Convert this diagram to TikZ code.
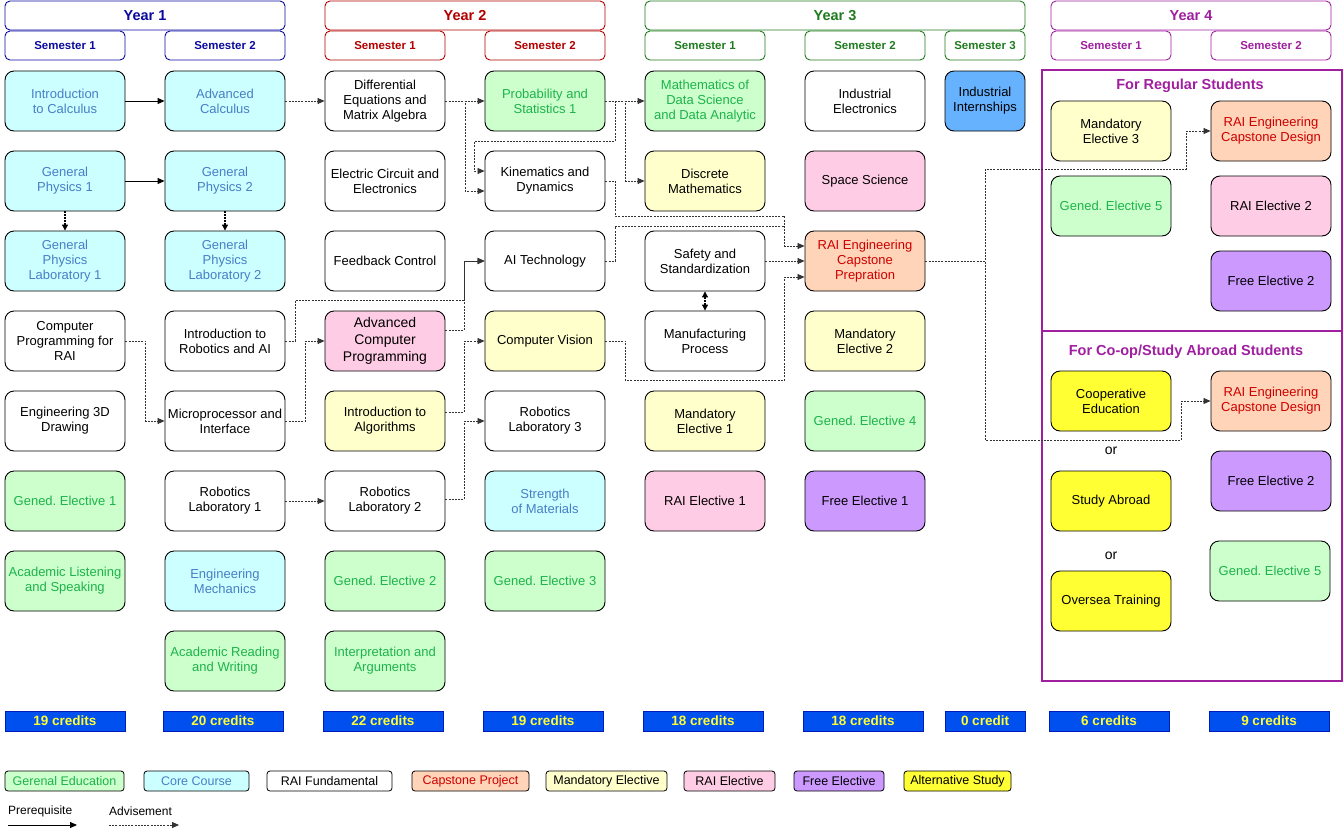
\documentclass[tikz,border=0pt]{standalone}
\usepackage{fontspec}
\setmainfont{Liberation Sans}
\usetikzlibrary{arrows.meta}
\definecolor{genfill}{HTML}{CCFFCC}
\definecolor{gentext}{HTML}{1DB34A}
\definecolor{corefill}{HTML}{CCFFFF}
\definecolor{coretext}{HTML}{4A7EC6}
\definecolor{capfill}{HTML}{FFD4B8}
\definecolor{captext}{HTML}{CC0000}
\definecolor{mandfill}{HTML}{FFFFCC}
\definecolor{raifill}{HTML}{FFCCE6}
\definecolor{freefill}{HTML}{CC99FF}
\definecolor{altfill}{HTML}{FFFF33}
\definecolor{internfill}{HTML}{66B2FF}
\definecolor{creditfill}{HTML}{0050EF}
\definecolor{creditdraw}{HTML}{001DBC}
\definecolor{credittext}{HTML}{FFFF33}
\definecolor{yonec}{HTML}{0A0A9E}
\definecolor{ytwoc}{HTML}{B20000}
\definecolor{ythreec}{HTML}{1E7B1E}
\definecolor{yfourc}{HTML}{A01EA0}
\definecolor{linec}{HTML}{333333}
\begin{document}
\frenchspacing
\begin{tikzpicture}[x=1pt,y=-1pt,
  course/.style={draw=black, line width=0.9pt, rounded corners=9pt, minimum width=120pt, minimum height=60pt, inner sep=0pt, align=center, font=\fontsize{13}{15}\selectfont},
  cgen/.style={course, fill=genfill, text=gentext},
  ccore/.style={course, fill=corefill, text=coretext},
  cfund/.style={course, fill=white, text=black},
  ccap/.style={course, fill=capfill, text=captext},
  cmand/.style={course, fill=mandfill, text=black},
  crai/.style={course, fill=raifill, text=black},
  cfree/.style={course, fill=freefill, text=black},
  calt/.style={course, fill=altfill, text=black},
  cint/.style={course, fill=internfill, text=black, minimum width=80pt},
  yearhdr/.style={draw, line width=0.9pt, rounded corners=5pt, minimum height=29pt, inner sep=0pt, font=\fontsize{14.5}{16}\selectfont\bfseries},
  semhdr/.style={draw, line width=0.9pt, rounded corners=5pt, minimum height=29pt, minimum width=120pt, inner sep=0pt, font=\fontsize{11.5}{13}\selectfont\bfseries},
  credit/.style={draw=creditdraw, fill=creditfill, text=credittext, minimum width=120pt, minimum height=20pt, inner sep=0pt, font=\fontsize{13.5}{14}\selectfont\bfseries},
  legbox/.style={draw=black, line width=0.8pt, rounded corners=3pt, minimum height=20pt, inner sep=0pt, font=\fontsize{12.5}{14}\selectfont},
  grouptitle/.style={text=yfourc, font=\fontsize{14.5}{16}\selectfont\bfseries},
  ortext/.style={font=\fontsize{14}{16}\selectfont},
  pre/.style={draw=black, line width=1pt, -{Triangle[length=7pt,width=6pt]}},
  advline/.style={draw=linec, line width=0.8pt, dash pattern=on 2pt off 1.2pt},
  adv/.style={advline, -{Triangle[length=7pt,width=6pt]}},
  advboth/.style={draw=black, line width=1.1pt, dash pattern=on 1.5pt off 1.5pt, {Triangle[length=6pt,width=6pt]}-{Triangle[length=6pt,width=6pt]}}
]
\useasboundingbox (0,0) rectangle (1344,833);

% ---------- headers ----------
\node[yearhdr, draw=yonec, text=yonec, minimum width=280pt] (Y1) at (145,15.5) {Year 1};
\node[semhdr, draw=yonec, text=yonec] (Y1S1) at (65,45.5) {Semester 1};
\node[semhdr, draw=yonec, text=yonec] (Y1S2) at (225,45.5) {Semester 2};
\node[yearhdr, draw=ytwoc, text=ytwoc, minimum width=280pt] (Y2) at (465,15.5) {Year 2};
\node[semhdr, draw=ytwoc, text=ytwoc] (Y2S1) at (385,45.5) {Semester 1};
\node[semhdr, draw=ytwoc, text=ytwoc] (Y2S2) at (545,45.5) {Semester 2};
\node[yearhdr, draw=ythreec, text=ythreec, minimum width=380pt] (Y3) at (835,15.5) {Year 3};
\node[semhdr, draw=ythreec, text=ythreec] (Y3S1) at (705,45.5) {Semester 1};
\node[semhdr, draw=ythreec, text=ythreec] (Y3S2) at (865,45.5) {Semester 2};
\node[semhdr, draw=ythreec, text=ythreec, minimum width=80pt] (Y3S3) at (985,45.5) {Semester 3};
\node[yearhdr, draw=yfourc, text=yfourc, minimum width=280pt] (Y4) at (1191,15.5) {Year 4};
\node[semhdr, draw=yfourc, text=yfourc] (Y4S1) at (1111,45.5) {Semester 1};
\node[semhdr, draw=yfourc, text=yfourc] (Y4S2) at (1271,45.5) {Semester 2};

% ---------- Year 4 group boxes ----------
\node[draw=yfourc, line width=2pt, minimum width=300pt, minimum height=261pt, inner sep=0pt] (RegBox) at (1192,200.5) {};
\node[draw=yfourc, line width=2pt, minimum width=300pt, minimum height=350pt, inner sep=0pt] (CoopBox) at (1192,506) {};
\node[grouptitle] (RegTitle) at (1190,86) {For Regular Students};
\node[grouptitle] (CoopTitle) at (1186,352) {For Co-op/Study Abroad Students};

% ---------- Year 1 ----------
\node[ccore] (IntroCalc) at (65,101) {Introduction\\to Calculus};
\node[ccore] (GP1) at (65,181) {General\\Physics 1};
\node[ccore] (GPLab1) at (65,261) {General\\Physics\\Laboratory 1};
\node[cfund] (CompProg) at (65,341) {Computer\\Programming for\\RAI};
\node[cfund] (Eng3D) at (65,421) {Engineering 3D\\Drawing};
\node[cgen] (GenEd1) at (65,501) {Gened. Elective 1};
\node[cgen] (AcadListen) at (65,581) {Academic Listening\\and Speaking};

\node[ccore] (AdvCalc) at (225,101) {Advanced\\Calculus};
\node[ccore] (GP2) at (225,181) {General\\Physics 2};
\node[ccore] (GPLab2) at (225,261) {General\\Physics\\Laboratory 2};
\node[cfund] (IntroRob) at (225,341) {Introduction to\\Robotics and AI};
\node[cfund] (Micro) at (225,421) {Microprocessor and\\Interface};
\node[cfund] (RobLab1) at (225,501) {Robotics\\Laboratory 1};
\node[ccore] (EngMech) at (225,581) {Engineering\\Mechanics};
\node[cgen] (AcadRead) at (225,661) {Academic Reading\\and Writing};

% ---------- Year 2 ----------
\node[cfund] (DiffEq) at (385,101) {Differential\\Equations and\\Matrix Algebra};
\node[cfund] (ElecCirc) at (385,181) {Electric Circuit and\\Electronics};
\node[cfund] (Feedback) at (385,261) {Feedback Control};
\node[crai, font=\fontsize{14}{17}\selectfont] (AdvCP) at (385,341) {Advanced\\Computer\\Programming};
\node[cmand] (IntroAlg) at (385,421) {Introduction to\\Algorithms};
\node[cfund] (RobLab2) at (385,501) {Robotics\\Laboratory 2};
\node[cgen] (GenEd2) at (385,581) {Gened. Elective 2};
\node[cgen] (Interp) at (385,661) {Interpretation and\\Arguments};

\node[cgen] (ProbStat) at (545,101) {Probability and\\Statistics 1};
\node[cfund] (Kin) at (545,181) {Kinematics and\\Dynamics};
\node[cfund] (AITech) at (545,261) {AI Technology};
\node[cmand] (CV) at (545,341) {Computer Vision};
\node[cfund] (RobLab3) at (545,421) {Robotics\\Laboratory 3};
\node[ccore] (Strength) at (545,501) {Strength\\of Materials};
\node[cgen] (GenEd3) at (545,581) {Gened. Elective 3};

% ---------- Year 3 ----------
\node[cgen] (MathDS) at (705,101) {Mathematics of\\Data Science\\and Data Analytic};
\node[cmand] (Discrete) at (705,181) {Discrete\\Mathematics};
\node[cfund] (Safety) at (705,261) {Safety and\\Standardization};
\node[cfund] (Manuf) at (705,341) {Manufacturing\\Process};
\node[cmand] (Mand1) at (705,421) {Mandatory\\Elective 1};
\node[crai] (RAIE1) at (705,501) {RAI Elective 1};

\node[cfund] (IndElec) at (865,101) {Industrial\\Electronics};
\node[crai] (Space) at (865,181) {Space Science};
\node[ccap] (CapPrep) at (865,261) {RAI Engineering\\Capstone\\Prepration};
\node[cmand] (Mand2) at (865,341) {Mandatory\\Elective 2};
\node[cgen] (GenEd4) at (865,421) {Gened. Elective 4};
\node[cfree] (Free1) at (865,501) {Free Elective 1};

\node[cint] (Intern) at (985,101) {Industrial\\Internships};

% ---------- Year 4 ----------
\node[cmand] (Mand3) at (1111,131) {Mandatory\\Elective 3};
\node[ccap] (CapD1) at (1271,131) {RAI Engineering\\Capstone Design};
\node[cgen] (GenEd5a) at (1111,206) {Gened. Elective 5};
\node[crai] (RAIE2) at (1271,206) {RAI Elective 2};
\node[cfree] (Free2a) at (1271,281) {Free Elective 2};

\node[calt] (Coop) at (1111,401) {Cooperative\\Education};
\node[ortext] (Or1) at (1111,451) {or};
\node[calt] (Abroad) at (1111,501) {Study Abroad};
\node[ortext] (Or2) at (1111,556) {or};
\node[calt] (Oversea) at (1111,601) {Oversea Training};
\node[ccap] (CapD2) at (1271,401) {RAI Engineering\\Capstone Design};
\node[cfree] (Free2b) at (1271,481) {Free Elective 2};
\node[cgen] (GenEd5b) at (1270,571) {Gened. Elective 5};

% ---------- credits ----------
\node[credit] (Cr1) at (65,721) {19 credits};
\node[credit] (Cr2) at (223,721) {20 credits};
\node[credit] (Cr3) at (383,721) {22 credits};
\node[credit] (Cr4) at (543,721) {19 credits};
\node[credit] (Cr5) at (703,721) {18 credits};
\node[credit] (Cr6) at (863,721) {18 credits};
\node[credit, minimum width=80pt] (Cr7) at (985,721) {0 credit};
\node[credit] (Cr8) at (1109,721) {6 credits};
\node[credit] (Cr9) at (1269,721) {9 credits};

% ---------- legend ----------
\node[legbox, fill=genfill, text=gentext, minimum width=119pt] (LGen) at (64.5,781) {Gerenal Education};
\node[legbox, fill=corefill, text=coretext, minimum width=105pt] (LCore) at (196.5,781) {Core Course};
\node[legbox, fill=white, text=black, minimum width=125pt] (LFund) at (329.5,781) {RAI Fundamental};
\node[legbox, fill=capfill, text=captext, minimum width=117pt] (LCap) at (470.5,781) {Capstone Project};
\node[legbox, fill=mandfill, minimum width=121pt] (LMand) at (606.5,781) {Mandatory Elective};
\node[legbox, fill=raifill, minimum width=91pt] (LRai) at (729.5,781) {RAI Elective};
\node[legbox, fill=freefill, minimum width=90pt] (LFree) at (839,781) {Free Elective};
\node[legbox, fill=altfill, minimum width=107pt] (LAlt) at (957.5,781) {Alternative Study};

\node[font=\fontsize{12}{14}\selectfont, anchor=west, inner sep=0pt] (LPreT) at (8,811) {Prerequisite};
\node[font=\fontsize{12}{14}\selectfont, anchor=west, inner sep=0pt] (LAdvT) at (109,811) {Advisement};
\coordinate (LPreA) at (8,825);
\coordinate (LPreB) at (77,825);
\coordinate (LAdvA) at (109,825);
\coordinate (LAdvB) at (179,825);
\draw[pre] (LPreA) -- (LPreB);
\draw[adv] (LAdvA) -- (LAdvB);

% ---------- connectors ----------
\draw[pre] (IntroCalc.east) -- (AdvCalc.west);
\draw[pre] (GP1.east) -- (GP2.west);
\draw[advboth, {-Triangle[length=6pt,width=6pt]}] (GP1.south) -- (GPLab1.north);
\draw[advboth, {-Triangle[length=6pt,width=6pt]}] (GP2.south) -- (GPLab2.north);
\draw[adv] (AdvCalc.east) -- (DiffEq.west);
\draw[adv] (CompProg.east) -- ++(20,0) |- (Micro.west);
\draw[adv] (IntroRob.east) -- ++(10,0) |- ([xshift=-20pt,yshift=-39pt]AITech.west) -- ([xshift=-20pt]AITech.west) -- (AITech.west);
\draw[adv] ([yshift=11pt]AdvCP.east) -| ([xshift=-20pt]AITech.west) -- (AITech.west);
\draw[adv] (Micro.east) -- ++(20,0) |- (AdvCP.west);
\draw[adv] ([yshift=9pt]IntroAlg.east) -| ([xshift=-20pt]CV.west) -- (CV.west);
\draw[adv] (RobLab1.east) -- (RobLab2.west);
\draw[adv] ([yshift=2pt]RobLab2.east) -| ([xshift=-20pt]RobLab3.west) -- (RobLab3.west);
\draw[adv] (DiffEq.east) -- (ProbStat.west);
\draw[adv] (DiffEq.east) -- ++(20,0) |- ([yshift=-10pt]Kin.west);
\draw[adv] (ProbStat.east) -- ++(10,0) -- ++(0,40) -| ([xshift=-10pt,yshift=10pt]Kin.west) -- ([yshift=10pt]Kin.west);
\draw[adv] (ProbStat.east) -- (MathDS.west);
\draw[adv] (ProbStat.east) -- ++(20,0) |- (Discrete.west);
\draw[adv] (Kin.east) -- ++(10,0) -- ++(0,35) -| ([xshift=-20pt,yshift=15pt]CapPrep.west) -- ([yshift=15pt]CapPrep.west);
\draw[advline] (AITech.east) -- ++(10,0) |- ([xshift=-20pt,yshift=35pt]CapPrep.west);
\draw[adv] (Safety.east) -- (CapPrep.west);
\draw[adv] (CV.east) -- ++(20,0) -- ++(0,39) -| ([xshift=-20pt,yshift=-16pt]CapPrep.west) -- ([yshift=-16pt]CapPrep.west);
\draw[advboth] (Safety.south) -- (Manuf.north);
\draw[adv] (CapPrep.east) -- ++(60,0) |- ([xshift=-24pt,yshift=-38pt]CapD1.west) -- ([xshift=-24pt]CapD1.west) -- (CapD1.west);
\draw[adv] (CapPrep.east) -- ++(60,0) |- ([xshift=-29pt,yshift=-39pt]CapD2.west) -- ([xshift=-29pt]CapD2.west) -- (CapD2.west);
\end{tikzpicture}
\end{document}
